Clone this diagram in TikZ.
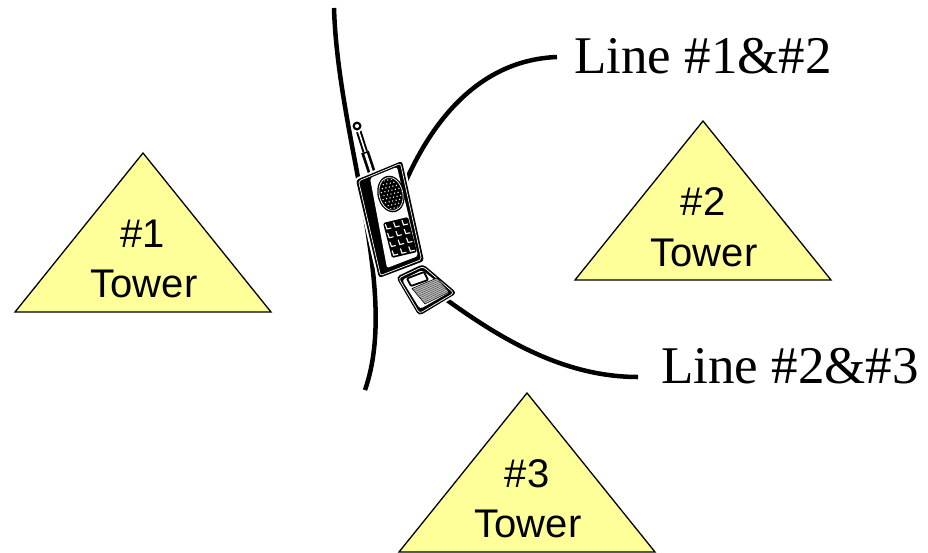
\documentclass[tikz,border=0pt]{standalone}
\usepackage{fontspec}
\setmainfont{Liberation Serif}
\newfontfamily\towerfont{Liberation Sans}
\definecolor{toweryellow}{HTML}{FFFF99}
\tikzset{
  tower/.style={fill=toweryellow, draw=black, line width=1.3pt, line join=miter},
  towertext/.style={font=\towerfont\fontsize{40}{48}\selectfont, anchor=base, inner sep=0pt},
  linelabel/.style={font=\fontsize{53}{60}\selectfont, anchor=base west, inner sep=0pt},
  boundary/.style={line width=4.5pt, line cap=butt},
  halo/.style={draw=white, fill=white, line width=4pt},
}
\begin{document}
\begin{tikzpicture}[x=1pt,y=-1pt]
\useasboundingbox (0,0) rectangle (928,552);

% towers
\path[tower] (143,153) -- (271,312) -- (15,312) -- cycle;
\path[tower] (703,121) -- (831,280) -- (575,280) -- cycle;
\path[tower] (527,393) -- (655,552) -- (399,552) -- cycle;
\node[towertext] (t1n) at (143,247) {\#1};
\node[towertext] (t1w) at (144,297) {Tower};
\node[towertext] (t2n) at (703,215) {\#2};
\node[towertext] (t2w) at (704,266) {Tower};
\node[towertext] (t3n) at (527,487) {\#3};
\node[towertext] (t3w) at (528,537) {Tower};

% line labels
\node[linelabel] (lab12) at (574,73) {Line \#1\&\#2};
\node[linelabel] (lab23) at (661,383) {Line \#2\&\#3};

% boundary curves
\coordinate (a0) at (334,8);
\coordinate (a1) at (365,390);
\coordinate (b0) at (557,57);
\coordinate (b1) at (400,195);
\coordinate (c0) at (440,295);
\coordinate (c1) at (638,377);
\draw[boundary] (a0) .. controls (338,140) and (400,290) .. (a1);
\draw[boundary] (b0) .. controls (480,60) and (430,120) .. (b1);
\draw[boundary] (c0) .. controls (495,335) and (560,377) .. (c1);

% ---- phone ----
% antenna
\coordinate (antTop) at (357,126);
\coordinate (antBase) at (373,176);
\draw[white, line width=9pt] (antTop) -- (antBase);
\draw[black, line width=5.5pt] (antTop) -- (antBase);
\draw[white, line width=1.6pt] (antTop) -- (antBase);
\draw[white, line width=10pt] (365,152) -- (374,179);
\draw[black, line width=8pt] (365,152) -- (374,179);
\draw[white, line width=2.6pt] (365.6,153.5) -- (373,176);
\filldraw[white] (antTop) circle (6);
\fill[black] (antTop) circle (4.5);
\fill[white] (antTop) circle (2);

% body
\path[halo, rounded corners=3pt] (356,180) -- (402,161) -- (424,261) -- (379,278) -- cycle;
\fill[black, rounded corners=3pt] (356,180) -- (402,161) -- (424,261) -- (379,278) -- cycle;
\draw[white, line width=0.7pt, rounded corners=2pt] (358.5,181) -- (400.5,163.5) -- (421.5,259.5) -- (380.5,275.5) -- cycle;
\fill[white, rounded corners=2pt] (370,178) -- (397,167) -- (418,256) -- (387,268) -- cycle;

% speaker
\fill[black, rotate around={13:(391,194)}] (391,194) ellipse (13.5 and 18.5);
\draw[white, line width=0.7pt, rotate around={13:(391,194)}] (391,194) ellipse (11.8 and 16.8);
\begin{scope}[rotate around={13:(391,194)}]
  \clip (391,194) ellipse (10.5 and 15.5);
  \foreach \r in {-4,...,4} {
    \foreach \c in {-3,...,3} {
      \pgfmathsetmacro{\dx}{\c*3.6+mod(abs(\r),2)*1.8}
      \fill[white] ({391+\dx},{194+\r*3.6}) circle (0.75);
    }
  }
\end{scope}

% keypad
\fill[black, rounded corners=1.5pt] (383,223) -- (408,217) -- (417,252) -- (392,258) -- cycle;
\foreach \i in {0,1,2} {
  \foreach \j in {0,1,2,3} {
    \pgfmathsetmacro{\kx}{383+(\i+0.5)*8.33+(\j+0.5)*2.25}
    \pgfmathsetmacro{\ky}{223-(\i+0.5)*2+(\j+0.5)*8.75}
    \draw[white, line width=1.1pt] ({\kx-3.0},{\ky-2.1}) -- ({\kx-1.3},{\ky+2.6}) -- ({\kx+3.0},{\ky+1.6});
  }
}

% flip
\path[halo, rounded corners=4pt] (396,277) -- (423,264) -- (457,293) -- (419,316) -- cycle;
\fill[black, rounded corners=4pt] (396,277) -- (423,264) -- (457,293) -- (419,316) -- cycle;
\draw[white, line width=0.7pt, rounded corners=3pt] (398.5,278) -- (423,266.5) -- (454,293) -- (419.5,313.5) -- cycle;
\fill[white, rounded corners=3pt] (402,280) -- (422,270) -- (450,292) -- (420,309) -- cycle;
\filldraw[fill=white, draw=black, line width=1.8pt, rounded corners=1pt] (407,278.5) -- (424,272) -- (428,280) -- (411,286) -- cycle;
\filldraw[fill=gray!55, draw=black, line width=0.6pt] (412,288.5) -- (437,278) -- (449,292) -- (425,304) -- cycle;
\foreach \t in {0.1,0.2,...,0.95} {
  \draw[black!75, line width=0.4pt] ({412+\t*13},{288.5+\t*15.5}) -- ({437+\t*12},{278+\t*14});
}
\end{tikzpicture}
\end{document}
